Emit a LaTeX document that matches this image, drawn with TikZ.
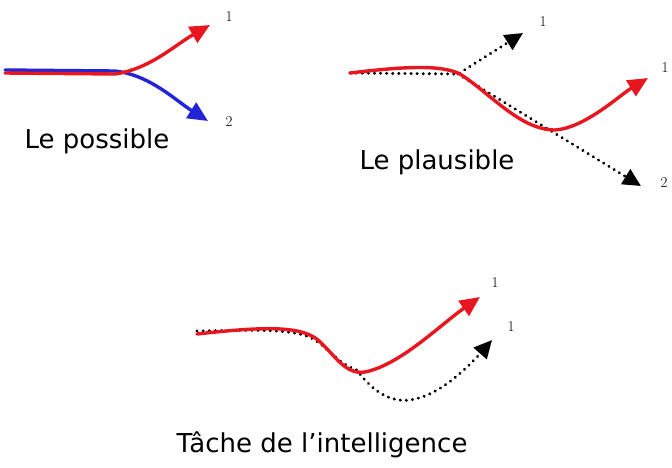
\documentclass[tikz,border=0pt]{standalone}
\usepackage{fontspec}
\setsansfont{DejaVu Sans}
\usepackage{tikz}
\usetikzlibrary{arrows.meta, positioning}
\definecolor{redpath}{RGB}{232,22,30}
\definecolor{bluepath}{RGB}{35,35,215}

\begin{document}
\begin{tikzpicture}[x=1pt, y=-1pt, line cap=round,
    real/.style={line width=3.4pt, -{Triangle[length=20pt, width=18pt]}},
    guess/.style={line width=3.2pt, dash pattern=on 0.1pt off 6pt, -{Triangle[length=18pt, width=17pt]}},
    caption/.style={font=\sffamily\fontsize{26}{30}\selectfont},
    tag/.style={font=\fontsize{15}{17}\selectfont}]
   \useasboundingbox (0,0) rectangle (672,467);

   % le possible
   \coordinate (pA) at (5,72);
   \coordinate (pB) at (115,72);
   \coordinate (pR) at (210,25);
   \coordinate (pU) at (208,121);
   \draw[real, bluepath] ([yshift=2]pA) -- ([yshift=1]pB) .. controls (150,75) and (175,100) .. (pU);
   \draw[real, redpath] ([yshift=-1]pA) -- ([yshift=-2]pB) .. controls (150,69) and (175,45) .. (pR);
   \node[tag] (p1) at (229,17) {1};
   \node[tag] (p2) at (229,122) {2};
   \node[caption] (possible) at (97,141) {Le possible};

   % le plausible
   \coordinate (qA) at (350,73);
   \coordinate (qB) at (458,74);
   \coordinate (qU) at (523,33);
   \coordinate (qD) at (641,186);
   \coordinate (qR) at (648,78);
   \draw[guess] (qA) -- (qB) -- (qU);
   \draw[guess] (qB) -- (qD);
   \draw[real, redpath] (qA) .. controls (400,67) and (440,64) .. (460,74)
      .. controls (490,93) and (520,130) .. (555,130)
      .. controls (585,128) and (620,95) .. (qR);
   \node[tag] (q1) at (543,22) {1};
   \node[tag] (q3) at (665,68) {1};
   \node[tag] (q2) at (664,183) {2};
   \node[caption] (plausible) at (437,162) {Le plausible};

   % tache de l'intelligence
   \coordinate (tA) at (197,334);
   \coordinate (tB) at (357,370);
   \coordinate (tR) at (480,297);
   \coordinate (tU) at (492,340);
   \draw[guess] ([yshift=3]tA) .. controls (260,330) and (300,328) .. (318,342)
      .. controls (333,354) and (343,366) .. (tB)
      .. controls (375,395) and (393,402) .. (410,400)
      .. controls (440,396) and (470,365) .. (tU);
   \draw[real, redpath] (tA) .. controls (260,327) and (300,325) .. (318,340)
      .. controls (335,355) and (345,375) .. (365,372)
      .. controls (400,365) and (440,325) .. (tR);
   \node[tag] (t1) at (495,283) {1};
   \node[tag] (t2) at (511,327) {1};
   \node[caption] (tache) at (322,445) {Tâche de l'intelligence};
\end{tikzpicture}
\end{document}
